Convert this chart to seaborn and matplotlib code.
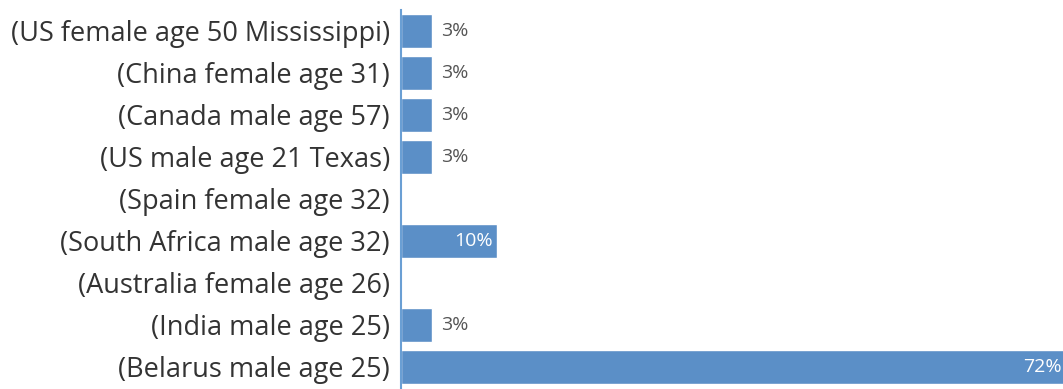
import matplotlib
matplotlib.use("Agg")
import matplotlib.pyplot as plt
import seaborn as sns
import pandas as pd

categories = [
    "(US female age 50 Mississippi)",
    "(China female age 31)",
    "(Canada male age 57)",
    "(US male age 21 Texas)",
    "(Spain female age 32)",
    "(South Africa male age 32)",
    "(Australia female age 26)",
    "(India male age 25)",
    "(Belarus male age 25)",
]
values = [3.4, 3.4, 3.4, 3.4, 0, 10.4, 0, 3.4, 72.3]

df = pd.DataFrame({"label": categories, "value": values})

sns.set_theme(style="white")
plt.rcParams["font.family"] = ["Open Sans", "DejaVu Sans"]

fig = plt.figure(figsize=(10.63, 3.89), dpi=100)
ax = fig.add_axes([401 / 1063, 1 - 388 / 389, 1 - 401 / 1063, 378 / 389])

bar_color = "#5b8fc7"
sns.barplot(data=df, y="label", x="value", orient="h", color=bar_color,
            saturation=1, width=0.8, ax=ax)

ax.set_xlim(0, 72)
ax.set_ylim(8.5, -0.5)
ax.set_xlabel("")
ax.set_ylabel("")
ax.set_xticks([])
for s in ["top", "right", "bottom"]:
    ax.spines[s].set_visible(False)
ax.spines["left"].set_color("#6a9fd4")
ax.spines["left"].set_linewidth(1.5)
ax.tick_params(axis="y", length=0, pad=8, labelsize=19.5, labelcolor="#333333")

for i, v in enumerate(values):
    if v <= 0:
        continue
    txt = f"{round(v)}%"
    if v >= 8:
        ax.text(v - 0.4, i, txt, ha="right", va="center", color="white",
                fontsize=14)
    else:
        ax.text(v + 1.0, i, txt, ha="left", va="center", color="#555555",
                fontsize=14)

fig.savefig("out.png", dpi=100)
